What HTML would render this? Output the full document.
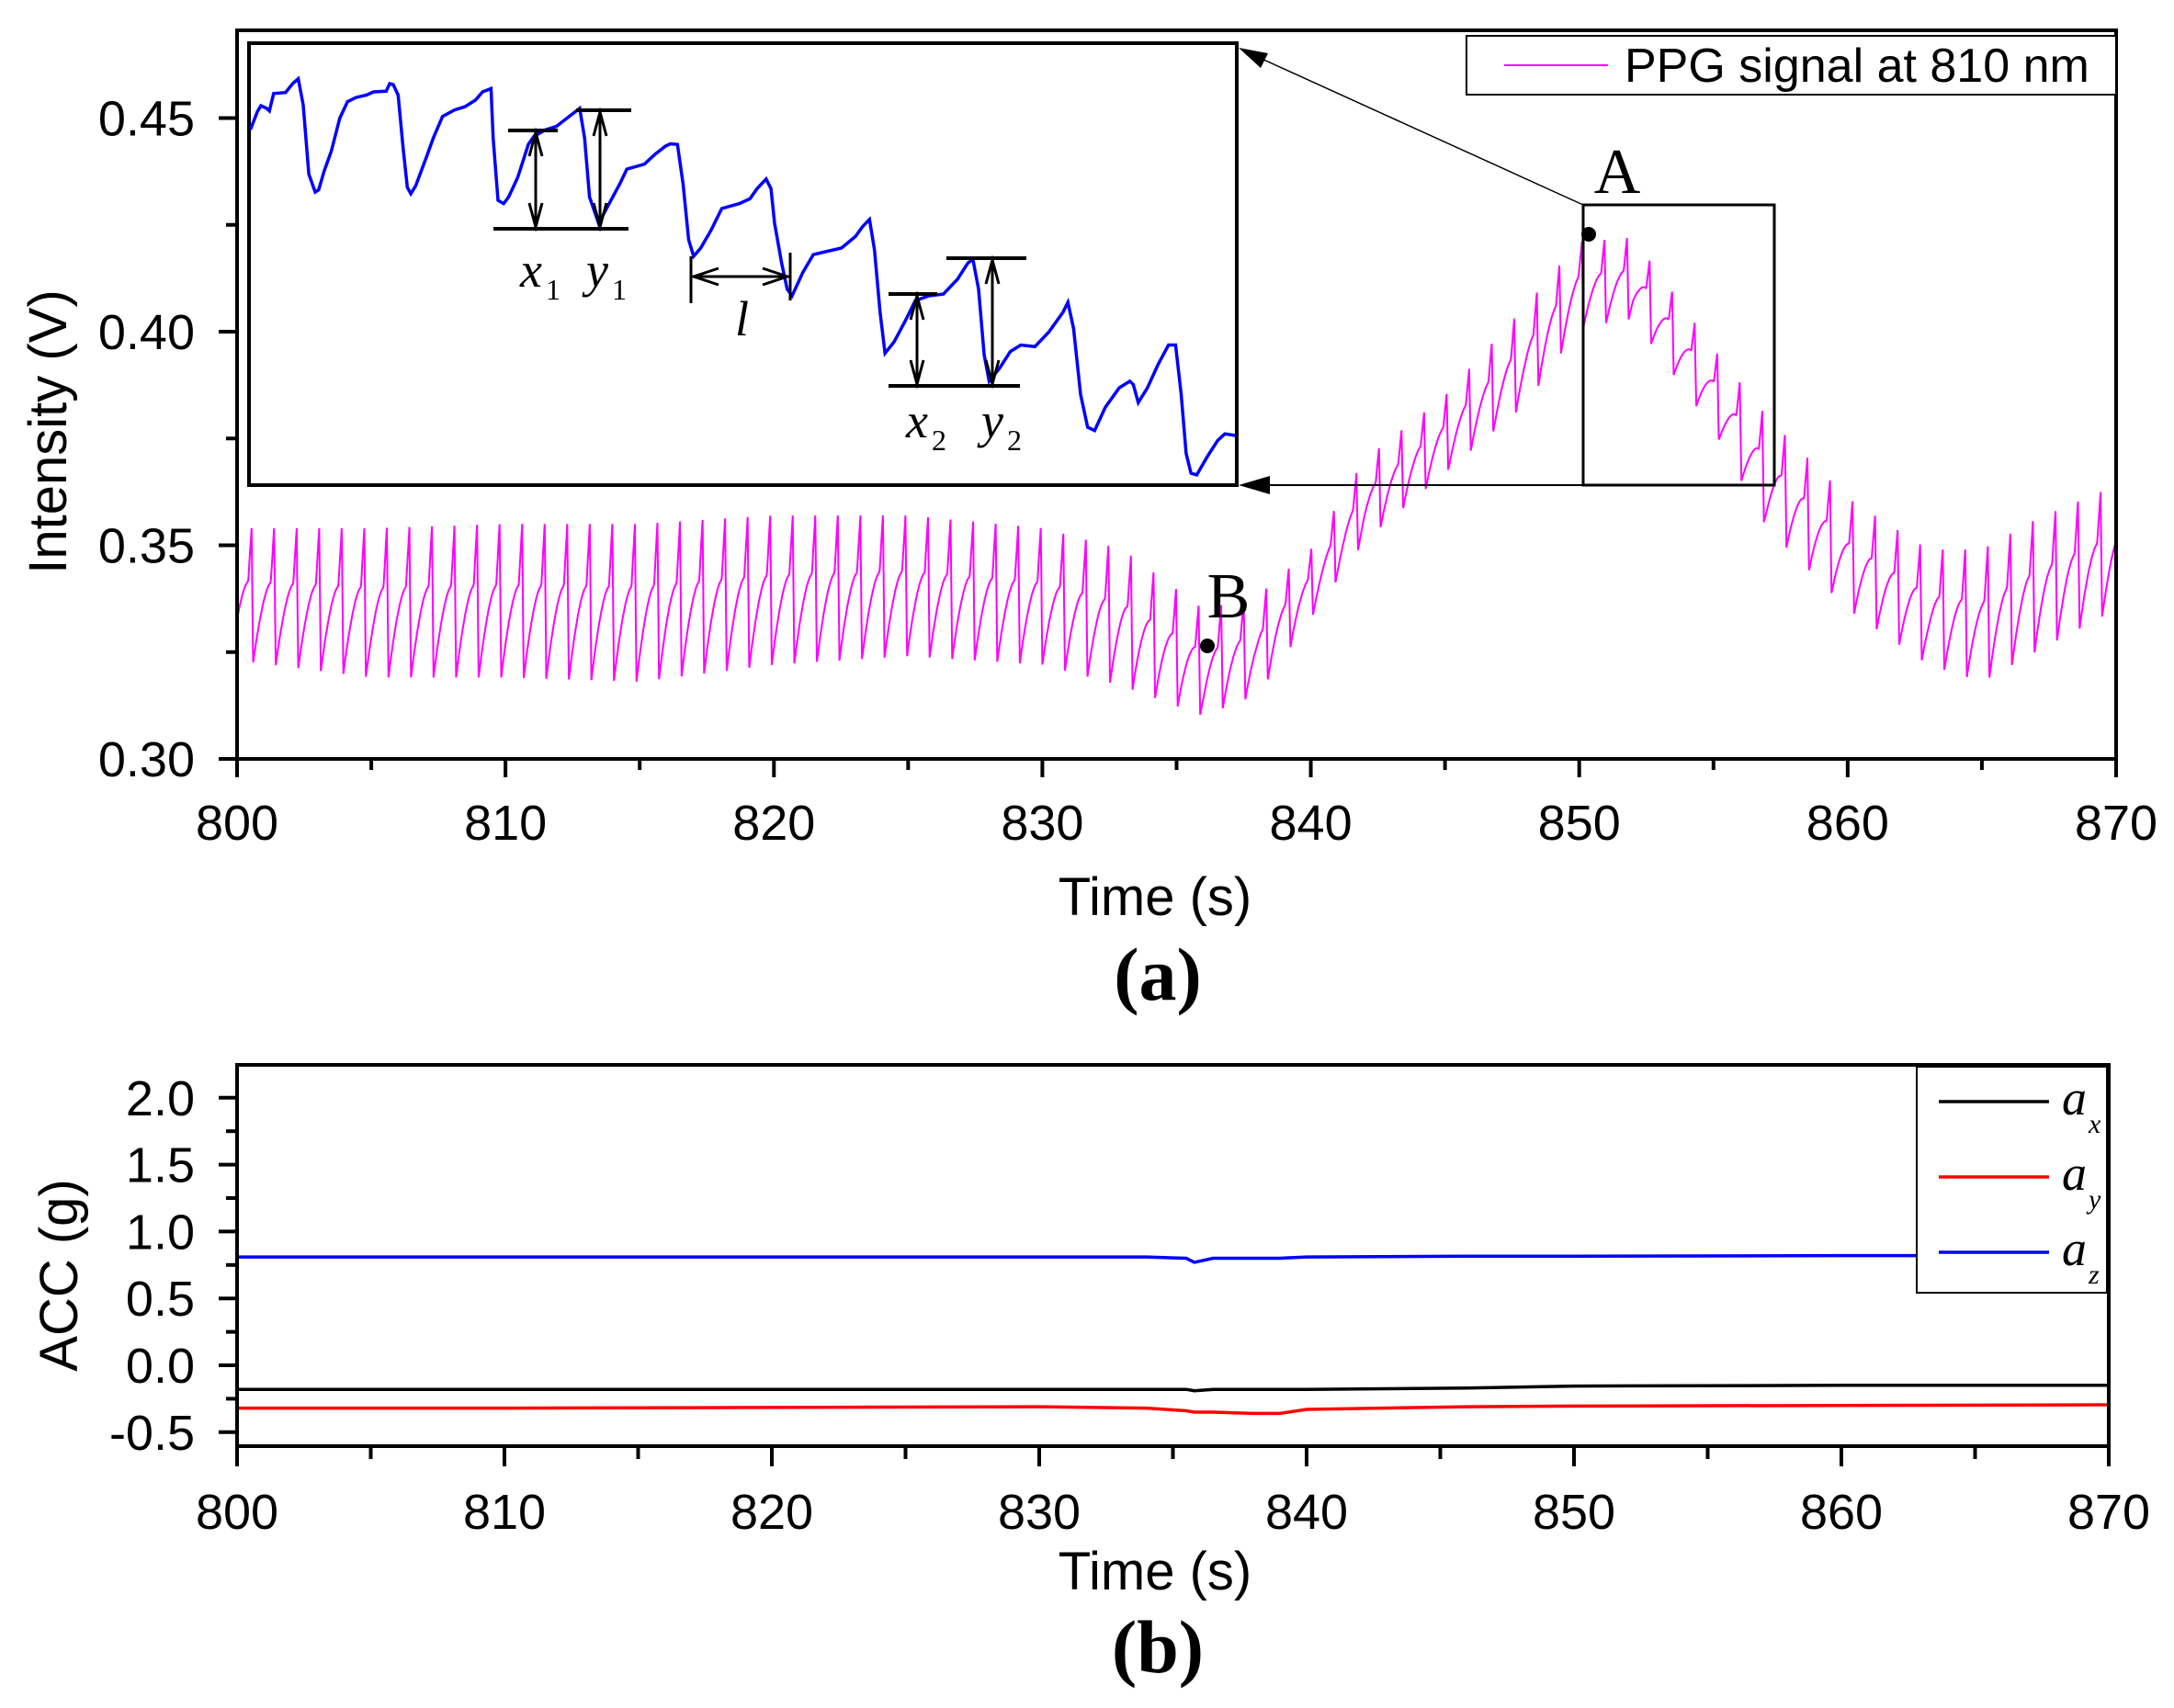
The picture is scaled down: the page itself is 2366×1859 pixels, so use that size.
<!DOCTYPE html>
<html><head><meta charset="utf-8"><style>
html,body{margin:0;padding:0;background:#fff;}
svg{display:block;}
text{font-family:"Liberation Sans",sans-serif;}
.serif{font-family:"Liberation Serif",serif;}
</style></head><body>
<svg id="fig" width="2366" height="1859" viewBox="0 0 2366 1859" xmlns="http://www.w3.org/2000/svg">
<g id="panelA"></g>
<g id="panelB"></g>
</svg>
<script>
// ---------- Panel (a) data ----------
const ppgEnvTimes = [800,805,810,815,820,825,830,833,836,838,840,842,845,848,850,852,855,857,860,863,865,867,870];
const ppgTop      = [0.354,0.354,0.355,0.355,0.357,0.357,0.354,0.349,0.335,0.338,0.349,0.370,0.385,0.406,0.421,0.422,0.396,0.380,0.361,0.349,0.349,0.356,0.364];
const ppgBottom   = [0.323,0.319,0.319,0.318,0.322,0.324,0.322,0.317,0.310,0.315,0.333,0.351,0.367,0.383,0.401,0.403,0.377,0.354,0.335,0.322,0.318,0.325,0.335];
const beatPeriod = [0.84];
const xTicksA = [800,810,820,830,840,850,860,870];
const yTicksA = ["0.30","0.35","0.40","0.45"];
const insetU = [2,12,17,25,29,35,52,62,70,77,85,94,99,107,117,129,140,152,167,177,195,200,205,212,219,225,230,237,252,262,275,292,307,322,332,344,347,354,362,369,382,397,405,422,437,455,470,477,484,497,512,527,537,562,577,592,599,609,617,625,632,642,657,672,697,712,722,735,742,747,757,765,772,787,802,822,842,862,872,882,889,897,904,917,932,947,967,987,1007,1022,1029,1037,1045,1052,1067,1082,1097,1117,1137,1157,1164,1172,1182,1192,1202,1217,1237,1252,1257,1264,1277,1292,1307,1317,1325,1332,1339,1347,1362,1377,1387,1402];
const insetV = [395,340,322,330,338,285,282,255,240,320,530,585,578,520,460,360,310,297,290,280,278,255,258,290,450,570,590,565,480,420,355,335,325,305,280,270,420,610,620,600,540,440,415,395,385,355,330,420,600,680,620,560,515,500,470,445,438,440,560,730,780,755,700,635,620,605,575,545,575,680,800,880,900,830,775,765,755,720,690,668,760,950,1075,1040,980,915,900,895,850,800,790,880,1080,1160,1120,1070,1050,1055,1010,950,920,1000,1200,1300,1310,1240,1180,1160,1170,1225,1180,1110,1050,1050,1200,1380,1440,1445,1390,1340,1320,1325];

// ---------- Panel (b) data ----------
const accTimes = [800,810,820,830,834,835.5,835.8,836.5,838,839,840,846,850,860,870];
const accX = [-0.18,-0.18,-0.18,-0.18,-0.18,-0.18,-0.19,-0.18,-0.18,-0.18,-0.18,-0.17,-0.155,-0.15,-0.15];
const accY = [-0.32,-0.32,-0.315,-0.31,-0.32,-0.34,-0.35,-0.35,-0.36,-0.36,-0.33,-0.31,-0.305,-0.30,-0.295];
const accZ = [0.81,0.81,0.81,0.81,0.81,0.80,0.77,0.80,0.80,0.80,0.81,0.815,0.815,0.82,0.82];
const xTicksB = [800,810,820,830,840,850,860,870];
const yTicksB = ["-0.5","0.0","0.5","1.0","1.5","2.0"];

const NS="http://www.w3.org/2000/svg";
function mk(tag, parent, attrs, txt){
  const e=document.createElementNS(NS,tag);
  for(const k in attrs) e.setAttribute(k,attrs[k]);
  if(txt!==undefined) e.textContent=txt;
  parent.appendChild(e); return e;
}
function interp(xs, ys, x){
  if(x<=xs[0]) return ys[0];
  for(let i=1;i<xs.length;i++){ if(x<=xs[i]){const f=(x-xs[i-1])/(xs[i]-xs[i-1]);return ys[i-1]+f*(ys[i]-ys[i-1]);} }
  return ys[ys.length-1];
}
const TF=54, TT=58;

// ===== Panel A =====
const A=document.getElementById('panelA');
const ax0=258, ax1=2303, ay0=33, ay1=826;
const xA = t => ax0 + (t-800)/70*(ax1-ax0);
const yA = v => 826 - (v-0.30)/0.05*232.5;

(function(){
  let pts=[]; const P=beatPeriod[0];
  for(let t=800; t<=870.001; t+=0.02){
    const top=interp(ppgEnvTimes,ppgTop,t), bot=interp(ppgEnvTimes,ppgBottom,t);
    let p=((t-800+0.3)/P)%1;
    let f;
    if(p<0.07) f=1-p/0.07;
    else if(p<0.85){const q=(p-0.07)/0.78; f=0.6*(1-Math.pow(1-q,1.6));}
    else f=0.6+0.4*(p-0.85)/0.15;
    pts.push(xA(t).toFixed(1)+','+yA(bot+f*(top-bot)).toFixed(1));
  }
  const l=mk('polyline',A,{points:pts.join(' '),fill:'none',stroke:'#ff00ff','stroke-width':2});
  
  
})();

const fa=mk('rect',A,{x:ax0,y:ay0,width:ax1-ax0,height:ay1-ay0,fill:'none',stroke:'#000','stroke-width':4});


xTicksA.forEach((t,i)=>{
  mk('line',A,{x1:xA(t),x2:xA(t),y1:ay1,y2:ay1+20,stroke:'#000','stroke-width':4});
  if(i<xTicksA.length-1) mk('line',A,{x1:xA(t+5),x2:xA(t+5),y1:ay1,y2:ay1+12,stroke:'#000','stroke-width':4});
  const tx=mk('text',A,{x:xA(t),y:914,'font-size':TF,'text-anchor':'middle'},String(t));
  
  
});
yTicksA.forEach((s,i)=>{
  const v=parseFloat(s);
  mk('line',A,{x1:ax0-20,x2:ax0,y1:yA(v),y2:yA(v),stroke:'#000','stroke-width':4});
  if(i<yTicksA.length-1) mk('line',A,{x1:ax0-12,x2:ax0,y1:yA(v+0.025),y2:yA(v+0.025),stroke:'#000','stroke-width':4});
  const tx=mk('text',A,{x:212,y:yA(v)+19,'font-size':TF,'text-anchor':'end'},s);
  
  
});
mk('line',A,{x1:ax0-12,x2:ax0,y1:yA(0.475),y2:yA(0.475),stroke:'#000','stroke-width':0});
let t1=mk('text',A,{x:1257,y:996,'font-size':TT,'text-anchor':'middle'},'Time (s)');
 
let t2=mk('text',A,{x:0,y:0,'font-size':TT,'text-anchor':'middle',transform:'translate(72,470) rotate(-90)'},'Intensity (V)');
 
let t3=mk('text',A,{x:1260,y:1088,'font-size':82,'font-weight':'bold','text-anchor':'middle',class:'serif'},'(a)');
 

let lg=mk('g',A,{});
 
mk('rect',lg,{x:1596,y:39,width:707,height:64,fill:'#fff',stroke:'#000','stroke-width':2});
mk('line',lg,{x1:1637,x2:1750,y1:71,y2:71,stroke:'#ff00ff','stroke-width':2});
mk('text',lg,{x:1768,y:89,'font-size':52},'PPG signal at 810 nm');

let zb=mk('rect',A,{x:1723,y:223,width:208,height:305,fill:'none',stroke:'#000','stroke-width':3});
 
mk('line',A,{x1:1723,y1:223,x2:1360,y2:58,stroke:'#000','stroke-width':1.5});
mk('polygon',A,{points:'1348,52 1380,58 1372,74',fill:'#000'});
mk('line',A,{x1:1723,y1:528,x2:1360,y2:528,stroke:'#000','stroke-width':2});
mk('polygon',A,{points:'1348,528 1382,518 1382,538',fill:'#000'});
mk('circle',A,{cx:1729,cy:255,r:8,fill:'#000'});
mk('circle',A,{cx:1314,cy:703,r:8,fill:'#000'});
let la=mk('text',A,{x:1760,y:210,'font-size':70,'text-anchor':'middle',class:'serif'},'A');
 
let lb=mk('text',A,{x:1337,y:672,'font-size':70,'text-anchor':'middle',class:'serif'},'B');
 

const ix0=271, iy0=47, iw=1075, ih=481;
let ins=mk('g',A,{});
 
mk('rect',ins,{x:ix0,y:iy0,width:iw,height:ih,fill:'#fff',stroke:'#000','stroke-width':4});
const xI=u=>ix0+u/1404*iw, yI=v=>iy0+(v-132)/1344*ih;
let ipts=insetU.map((u,i)=>xI(u).toFixed(1)+','+yI(insetV[i]).toFixed(1)).join(' ');
let il=mk('polyline',ins,{points:ipts,fill:'none',stroke:'#0000ff','stroke-width':3.5});
 
function bar(x1,x2,y){mk('line',ins,{x1,x2,y1:y,y2:y,stroke:'#000','stroke-width':4});}
function vArrow(x,y1,y2){
  mk('line',ins,{x1:x,x2:x,y1:y1,y2:y2,stroke:'#000','stroke-width':3});
  mk('polyline',ins,{points:`${x-7},${y1+28} ${x},${y1+2} ${x+7},${y1+28}`,fill:'none',stroke:'#000','stroke-width':3});
  mk('polyline',ins,{points:`${x-7},${y2-28} ${x},${y2-2} ${x+7},${y2-28}`,fill:'none',stroke:'#000','stroke-width':3});
}
bar(553,607,142); bar(537,684,249); vArrow(583,142,249);
bar(627,687,120); vArrow(653,120,249);
mk('line',ins,{x1:752,x2:752,y1:279,y2:330,stroke:'#000','stroke-width':3});
mk('line',ins,{x1:860,x2:860,y1:275,y2:327,stroke:'#000','stroke-width':3});
mk('line',ins,{x1:754,x2:858,y1:301,y2:301,stroke:'#000','stroke-width':3});
mk('polyline',ins,{points:'782,292 755,301 782,310',fill:'none',stroke:'#000','stroke-width':3});
mk('polyline',ins,{points:'830,292 857,301 830,310',fill:'none',stroke:'#000','stroke-width':3});
bar(967,1020,320); bar(967,1110,420); vArrow(998,320,420);
bar(1030,1117,281); vArrow(1080,281,420);
function lab(x,y,m,s){
  const t=mk('text',ins,{x,y,'font-size':54,'font-style':'italic',class:'serif'},m);
  mk('tspan',t,{'font-size':32,'font-style':'normal',dy:14,dx:4},s);
   
}
lab(566,312,'x','1'); lab(638,312,'y','1'); lab(986,476,'x','2'); lab(1068,476,'y','2');
mk('text',ins,{x:800,y:365,'font-size':54,'font-style':'italic',class:'serif'},'l');

// ===== Panel B =====
const B=document.getElementById('panelB');
const bx0=258, bx1=2295, by0=1159, by1=1574;
const xB=t=>bx0+(t-800)/70*(bx1-bx0);
const yB=v=>1486 - v/0.5*72.8;
function series(arr,color,name){
  const pts=accTimes.map((t,i)=>xB(t).toFixed(1)+','+yB(arr[i]).toFixed(1)).join(' ');
  const l=mk('polyline',B,{points:pts,fill:'none',stroke:color,'stroke-width':3.5});
  
  
}
series(accX,'#000','acc-x-line'); series(accY,'#ff0000','acc-y-line'); series(accZ,'#0000ff','acc-z-line');
const fb=mk('rect',B,{x:bx0,y:by0,width:bx1-bx0,height:by1-by0,fill:'none',stroke:'#000','stroke-width':4});
 
xTicksB.forEach((t,i)=>{
  mk('line',B,{x1:xB(t),x2:xB(t),y1:by1,y2:by1+22,stroke:'#000','stroke-width':4});
  if(i<xTicksB.length-1) mk('line',B,{x1:xB(t+5),x2:xB(t+5),y1:by1,y2:by1+14,stroke:'#000','stroke-width':4});
  const tx=mk('text',B,{x:xB(t),y:1664,'font-size':TF,'text-anchor':'middle'},String(t));
   
});
yTicksB.forEach(s=>{
  const v=parseFloat(s);
  mk('line',B,{x1:bx0-20,x2:bx0,y1:yB(v),y2:yB(v),stroke:'#000','stroke-width':4});
  if(v<2) mk('line',B,{x1:bx0-12,x2:bx0,y1:yB(v+0.25),y2:yB(v+0.25),stroke:'#000','stroke-width':4});
  const tx=mk('text',B,{x:212,y:yB(v)+19,'font-size':TF,'text-anchor':'end'},s);
   
});
let b1=mk('text',B,{x:1257,y:1730,'font-size':TT,'text-anchor':'middle'},'Time (s)');
 
let b2=mk('text',B,{x:0,y:0,'font-size':TT,'text-anchor':'middle',transform:'translate(84,1388) rotate(-90)'},'ACC (g)');
 
let b3=mk('text',B,{x:1260,y:1820,'font-size':82,'font-weight':'bold','text-anchor':'middle',class:'serif'},'(b)');
 
let lgb=mk('g',B,{});
 
mk('rect',lgb,{x:2086,y:1161,width:207,height:246,fill:'#fff',stroke:'#000','stroke-width':2});
[['#000','x',1199],['#ff0000','y',1281],['#0000ff','z',1363]].forEach(e=>{
  mk('line',lgb,{x1:2110,x2:2230,y1:e[2],y2:e[2],stroke:e[0],'stroke-width':3.5});
  const t=mk('text',lgb,{x:2244,y:e[2]+14,'font-size':54,'font-style':'italic',class:'serif'},'a');
  mk('tspan',t,{'font-size':30,dy:20,dx:2},e[1]);
});
</script>
</body></html>
